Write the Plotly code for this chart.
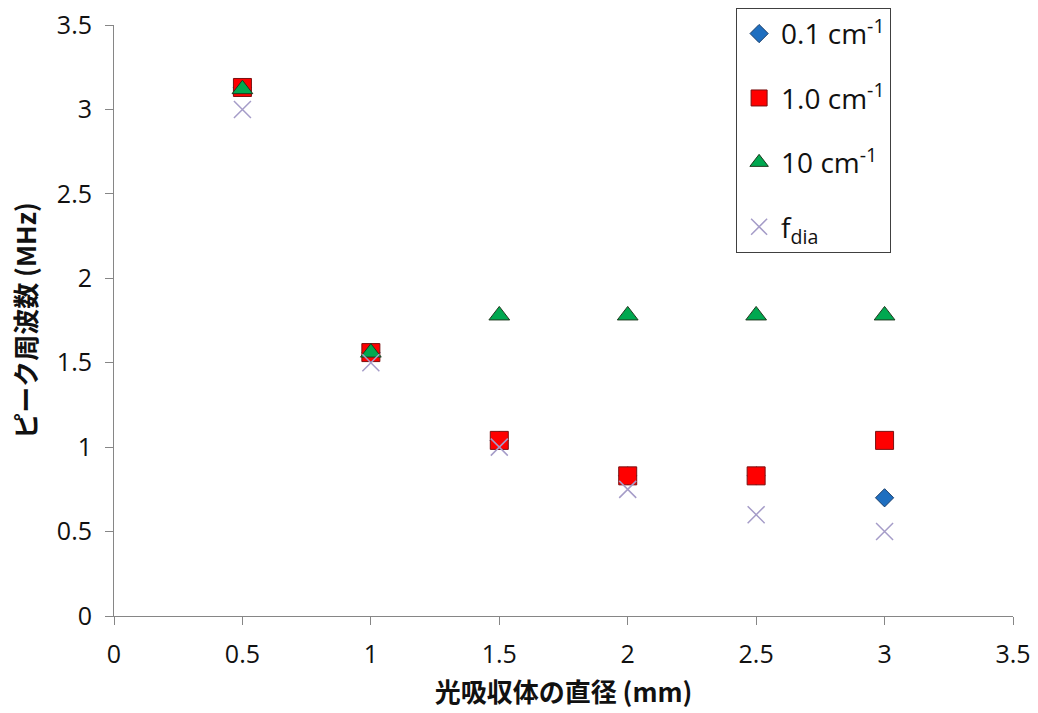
import plotly.graph_objects as go

diameter_mm = [0.5, 1.0, 1.5, 2.0, 2.5, 3.0]
peak_01 = [3.13, 1.56, 1.04, 0.83, 0.83, 0.70]
peak_10 = [3.13, 1.56, 1.04, 0.83, 0.83, 1.04]
peak_100 = [3.12, 1.56, 1.78, 1.78, 1.78, 1.78]
f_dia = [3.0, 1.5, 1.0, 0.75, 0.6, 0.5]

names = ["0.1 cm<sup>-1</sup>", "1.0 cm<sup>-1</sup>", "10 cm<sup>-1</sup>", "f<sub>dia</sub>"]

font_fam = "Open Sans, Liberation Sans, Noto Sans CJK JP, sans-serif"
title_fam = "Noto Sans CJK JP, Open Sans, sans-serif"

fig = go.Figure()
fig.add_trace(go.Scatter(x=diameter_mm, y=peak_01, mode="markers", name=names[0], legendgroup="a",
                         marker=dict(symbol="diamond", size=14, color="#1F6FC0",
                                     line=dict(color="#1A3E6A", width=1))))
fig.add_trace(go.Scatter(x=diameter_mm, y=peak_10, mode="markers", name=names[1], legendgroup="b",
                         marker=dict(symbol="square", size=18, color="#FF0000",
                                     line=dict(color="#7A1010", width=1))))
fig.add_trace(go.Scatter(x=diameter_mm, y=peak_100, mode="markers", name=names[2], legendgroup="c",
                         marker=dict(symbol="triangle-up", size=18, color="#00A850",
                                     line=dict(color="#1E3A1E", width=1))))
fig.add_trace(go.Scatter(x=diameter_mm, y=f_dia, mode="markers", name=names[3], legendgroup="d",
                         marker=dict(symbol="x-thin-open", size=17, color="#A59CC8",
                                     line=dict(color="#A59CC8", width=1.5))))

axis_common = dict(showgrid=False, zeroline=False, showline=True, linecolor="#868686", linewidth=1,
                   ticks="outside", ticklen=8, tickcolor="#868686", ticklabelstandoff=8,
                   tickfont=dict(family=font_fam, size=25, color="#111111"), automargin=False)

fig.update_layout(
    width=1038, height=713,
    margin=dict(l=114, r=25, t=25, b=97, autoexpand=False),
    paper_bgcolor="white", plot_bgcolor="white",
    xaxis=dict(range=[0, 3.5], dtick=0.5, tickformat="~g",
               title=dict(text="<b>光吸収体の直径 (mm)</b>", font=dict(family=title_fam, size=26, color="#111111"),
                          standoff=14),
               **axis_common),
    yaxis=dict(range=[0, 3.5], dtick=0.5, tickformat="~g",
               title=dict(text="<b>ピーク周波数 (MHz)</b>", font=dict(family=title_fam, size=26, color="#111111"),
                          standoff=12),
               **axis_common),
    legend=dict(x=0.692, y=1.029, xanchor="left", yanchor="top",
                bordercolor="#404040", borderwidth=1, bgcolor="white",
                font=dict(family=font_fam, size=28, color="#111111"),
                tracegroupgap=25, itemwidth=34),
    showlegend=True,
)

fig.write_html("out.html")
